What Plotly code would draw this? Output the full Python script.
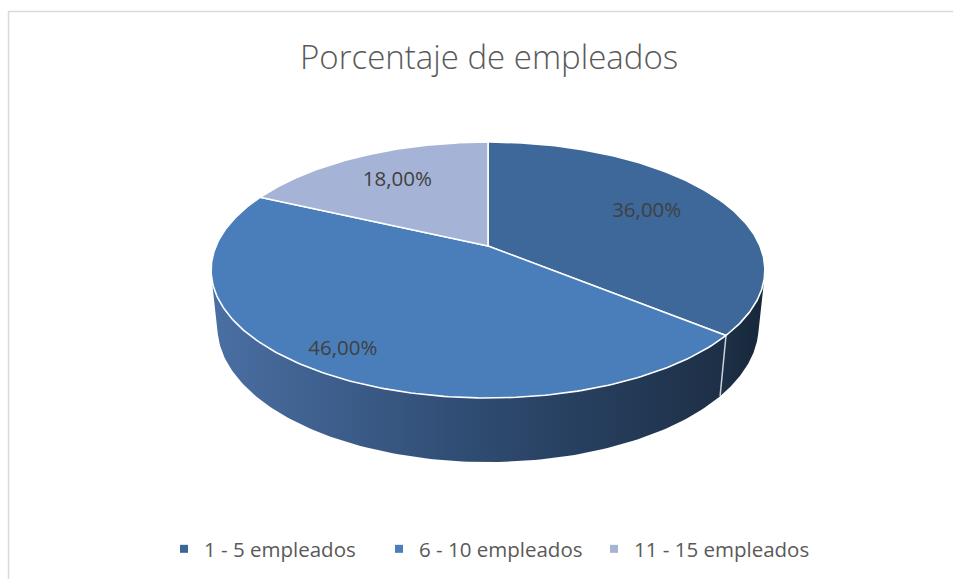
import math
import plotly.graph_objects as go

# ---- data ----
categories = ["1 - 5 empleados", "6 - 10 empleados", "11 - 15 empleados"]
values = [36.0, 46.0, 18.0]
labels = ["36,00%", "46,00%", "18,00%"]
title_text = "Porcentaje de empleados"

# ---- style ----
top_colors = ["#3d6899", "#4a7ebb", "#a5b4d6"]
side_scales = [
    [[0, "#1d3046"], [1, "#17273a"]],
    [[0, "#4a6fa3"], [0.5, "#2f4c72"], [1, "#1d2f46"]],
    [[0, "#6f86ad"], [1, "#55688a"]],
]
legend_colors = ["#3a6596", "#4a7ebb", "#a5b4d6"]
label_r = [0.68, 0.86, 0.69]

# ---- projection (3D pie, perspective) ----
W, Hh = 953, 579
alpha = math.radians(27)
s, c = math.sin(alpha), math.cos(alpha)
D = 4.749
F = 1291.6
CX, CY = 488.0, 246.0
THICK = 0.2346


def proj(X, Y, Z):
    depth = D + Y * c - Z * s
    return CX + F * X / depth, CY - F * (Y * s + Z * c) / depth


def rim(theta, Z, r=1.0):
    return proj(r * math.sin(theta), r * math.cos(theta), Z)


total = sum(values)
bounds = [0.0]
for v in values:
    bounds.append(bounds[-1] + 2 * math.pi * v / total)

# visible side range (cos(theta) < -1/(D c))
tv = math.acos(-1.0 / (D * c))
vis0, vis1 = tv, 2 * math.pi - tv

fig = go.Figure()


def arc(a, b, Z, n=120):
    pts = []
    for k in range(n + 1):
        t = a + (b - a) * k / n
        pts.append(rim(t, Z))
    return pts


# sides
for i in range(len(values)):
    a, b = max(bounds[i], vis0), min(bounds[i + 1], vis1)
    if b <= a:
        continue
    top = arc(a, b, 0)
    bot = arc(a, b, -THICK)[::-1]
    pts = top + bot + [top[0]]
    fig.add_trace(go.Scatter(
        x=[p[0] for p in pts], y=[p[1] for p in pts], mode="lines",
        fill="toself", line=dict(width=0, color="rgba(0,0,0,0)"),
        fillgradient=dict(type="horizontal", colorscale=side_scales[i]),
        hoverinfo="skip", showlegend=False))

# seams on the side
for i in range(1, len(values)):
    t = bounds[i]
    if vis0 < t < vis1:
        p0, p1 = rim(t, 0), rim(t, -THICK)
        fig.add_trace(go.Scatter(
            x=[p0[0], p1[0]], y=[p0[1], p1[1]], mode="lines",
            line=dict(width=1.5, color="#c9cfd8"),
            hoverinfo="skip", showlegend=False))

# top faces
for i in range(len(values)):
    pts = [proj(0, 0, 0)] + arc(bounds[i], bounds[i + 1], 0, 200) + [proj(0, 0, 0)]
    fig.add_trace(go.Scatter(
        x=[p[0] for p in pts], y=[p[1] for p in pts], mode="lines",
        fill="toself", fillcolor=top_colors[i],
        line=dict(width=1.6, color="white"),
        hoverinfo="skip", showlegend=False))

# labels
lx, ly = [], []
for i in range(len(values)):
    mid = (bounds[i] + bounds[i + 1]) / 2
    px, py = rim(mid, 0, label_r[i])
    lx.append(px)
    ly.append(py)
fig.add_trace(go.Scatter(
    x=lx, y=ly, mode="text", text=labels,
    textfont=dict(family="Open Sans", size=20.5, color="#404040"),
    hoverinfo="skip", showlegend=False))

# legend entries
for i, name in enumerate(categories):
    fig.add_trace(go.Scatter(
        x=[None], y=[None], mode="markers", name=name,
        marker=dict(symbol="square", size=8, color=legend_colors[i]),
        hoverinfo="skip"))

fig.update_layout(
    width=W, height=Hh,
    margin=dict(l=0, r=0, t=0, b=0),
    paper_bgcolor="white", plot_bgcolor="white",
    xaxis=dict(range=[0, W], visible=False, fixedrange=True),
    yaxis=dict(range=[Hh, 0], visible=False, fixedrange=True),
    showlegend=True,
    legend=dict(orientation="h", x=164 / W, xanchor="left",
                y=1 - 549 / Hh, yanchor="middle",
                entrywidth=170, entrywidthmode="pixels",
                font=dict(family="Open Sans", size=20.5, color="#595959"),
                itemclick=False, itemdoubleclick=False),
    annotations=[dict(text=title_text, x=489, y=56, xref="x", yref="y",
                      showarrow=False,
                      font=dict(family="Open Sans", size=33, weight=300, color="#595959"))],
    shapes=[dict(type="rect", xref="x", yref="y", x0=8.5, y0=11.5, x1=W + 5, y1=Hh + 5,
                 line=dict(color="#d9d9d9", width=1.5), layer="below")],
)

fig.write_html("out.html", config={"displayModeBar": False},
               post_script="document.body.style.margin='0';document.body.style.overflow='hidden';")
